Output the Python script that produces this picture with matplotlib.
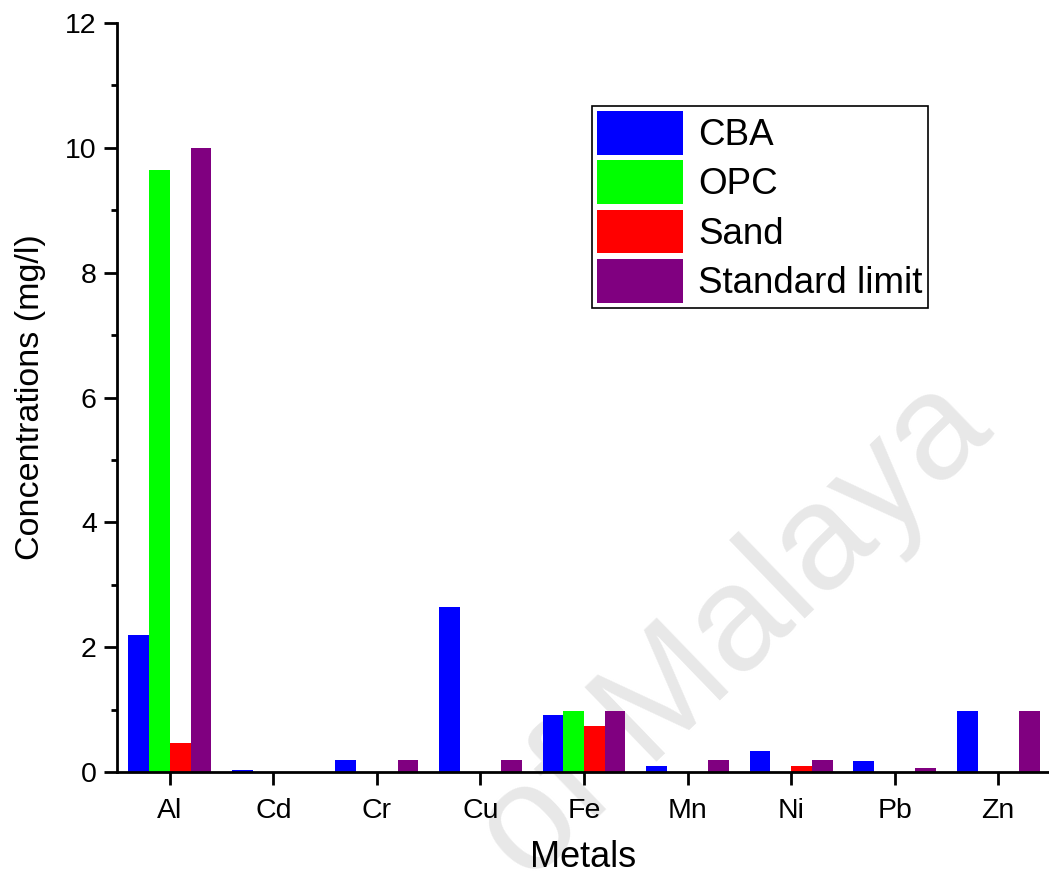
import matplotlib
matplotlib.use("Agg")
import matplotlib.pyplot as plt
import numpy as np

metals = ["Al", "Cd", "Cr", "Cu", "Fe", "Mn", "Ni", "Pb", "Zn"]
cba = [2.19, 0.03, 0.19, 2.65, 0.91, 0.10, 0.33, 0.18, 0.98]
opc = [9.65, 0.0, 0.0, 0.0, 0.97, 0.0, 0.0, 0.0, 0.0]
sand = [0.47, 0.0, 0.0, 0.0, 0.74, 0.0, 0.10, 0.0, 0.0]
standard = [10.0, 0.0, 0.19, 0.19, 0.98, 0.19, 0.19, 0.07, 0.98]
series_names = ["CBA", "OPC", "Sand", "Standard limit"]
colors = ["#0000FF", "#00FF00", "#FF0000", "#800080"]

plt.rcParams['font.family'] = ['Liberation Sans', 'DejaVu Sans']

W, H = 1049, 888
fig = plt.figure(figsize=(W / 100, H / 100), dpi=100)
ax = fig.add_axes([117 / W, 1 - 772 / H, (1050 - 117) / W, (772 - 23) / H])
ax.set_zorder(1)
ax.patch.set_alpha(0)

# watermark (behind the chart)
fig.text(735 / W, 1 - 632 / H, "of Malaya", fontsize=108, color="#e8e8e8",
         rotation=44, ha="center", va="center", zorder=0)

x = np.arange(len(metals))
bw = 0.2
for i, (vals, name, c) in enumerate(zip([cba, opc, sand, standard], series_names, colors)):
    ax.bar(x + (i - 1.5) * bw, vals, width=bw, color=c, label=name, zorder=2)

ax.set_xlim(-0.51, 8.5)
ax.set_ylim(0, 12)
ax.set_yticks(np.arange(0, 13, 2))
ax.set_yticks(np.arange(1, 12, 2), minor=True)
ax.set_xticks(x)
ax.set_xticklabels(metals)

for s in ["top", "right"]:
    ax.spines[s].set_visible(False)
for s in ["left", "bottom"]:
    ax.spines[s].set_linewidth(2)
    ax.spines[s].set_zorder(3)

ax.tick_params(axis="both", which="major", length=9.5, width=2, labelsize=20.5, direction="out", pad=5)
ax.tick_params(axis="y", which="minor", length=4.5, width=2, direction="out")
ax.tick_params(axis="x", which="major", pad=9)

ax.set_xlabel("Metals", fontsize=26, labelpad=12)
ax.set_ylabel("Concentrations (mg/l)", fontsize=24.5, labelpad=14)

leg = ax.legend(loc="upper left", bbox_to_anchor=(592 / W, 1 - 106 / H),
                bbox_transform=fig.transFigure, borderaxespad=0,
                fontsize=26.5, frameon=True, fancybox=False, shadow=False,
                handlelength=2.34, handleheight=1.45, labelspacing=0.15,
                borderpad=0.14, handletextpad=0.4)
leg.get_frame().set_edgecolor("black")
leg.get_frame().set_linewidth(1.2)
leg.get_frame().set_alpha(1)

fig.savefig("out.png", dpi=100)
